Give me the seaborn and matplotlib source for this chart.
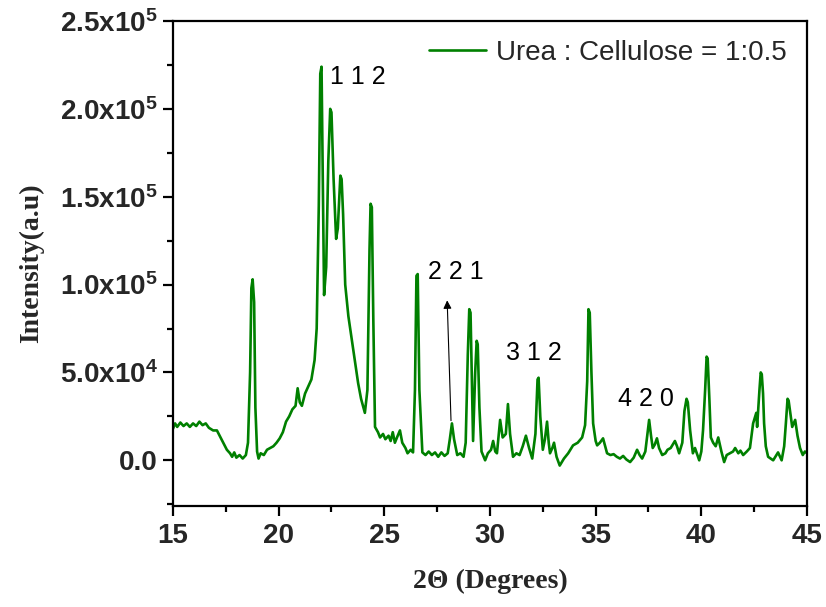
import numpy as np
import pandas as pd
import matplotlib
matplotlib.use("Agg")
import matplotlib.pyplot as plt
import seaborn as sns
from matplotlib.ticker import MultipleLocator, FixedLocator

two_theta = [
    15.0, 15.1, 15.2, 15.35, 15.5, 15.65, 15.8, 15.95, 16.1, 16.25, 16.4, 16.55, 16.7, 16.9,
    17.08, 17.25, 17.4, 17.55, 17.7, 17.8, 17.9, 18.0, 18.15, 18.3, 18.45, 18.55, 18.65, 18.71, 18.77,
    18.84, 18.9, 18.98, 19.05, 19.15, 19.3, 19.45, 19.6, 19.75, 19.9, 20.05, 20.2, 20.35, 20.5,
    20.65, 20.8, 20.9, 21.0, 21.1, 21.25, 21.4, 21.55, 21.7, 21.8, 21.9, 21.97, 22.03, 22.15,
    22.25, 22.35, 22.44, 22.5, 22.6, 22.72, 22.8, 22.92, 22.98, 23.05, 23.15, 23.3, 23.47, 23.6, 23.76, 23.9,
    24.08, 24.2, 24.3, 24.35, 24.41, 24.48, 24.56, 24.7, 24.8, 24.94, 25.05, 25.2, 25.3, 25.4, 25.5,
    25.6, 25.74, 25.85, 26.0, 26.1, 26.25, 26.36, 26.45, 26.52, 26.58, 26.66, 26.8, 26.95, 27.1,
    27.25, 27.4, 27.55, 27.7, 27.85, 28.0, 28.1, 28.2, 28.3, 28.45, 28.6, 28.75, 28.85, 28.95,
    29.02, 29.08, 29.2, 29.3, 29.37, 29.42, 29.5, 29.6, 29.77, 29.9, 30.05, 30.15, 30.25, 30.33, 30.48,
    30.6, 30.75, 30.85, 30.95, 31.09, 31.25, 31.4, 31.55, 31.7, 31.85, 32.0, 32.15, 32.25, 32.3, 32.38,
    32.5, 32.6, 32.7, 32.78, 32.84, 32.95, 33.03, 33.15, 33.3, 33.5, 33.7, 33.93, 34.15, 34.36,
    34.5, 34.6, 34.66, 34.72, 34.8, 34.88, 35.0, 35.07, 35.2, 35.35, 35.45, 35.54, 35.7, 35.85, 36.0,
    36.15, 36.3, 36.45, 36.63, 36.8, 36.96, 37.08, 37.2, 37.35, 37.45, 37.53, 37.62, 37.7, 37.8,
    37.9, 38.0, 38.15, 38.3, 38.4, 38.55, 38.75, 38.85, 38.95, 39.1, 39.2, 39.3, 39.36, 39.47, 39.6,
    39.7, 39.9, 40.0, 40.08, 40.18, 40.25, 40.3, 40.38, 40.45, 40.56, 40.68, 40.8, 40.95, 41.08, 41.2,
    41.35, 41.5, 41.6, 41.75, 41.85, 41.98, 42.15, 42.3, 42.45, 42.6, 42.64, 42.75, 42.81, 42.86, 42.92,
    42.97, 43.05, 43.16, 43.4, 43.55, 43.63, 43.8, 43.92, 44.0, 44.08, 44.13, 44.2, 44.3, 44.44, 44.55,
    44.67, 44.8, 44.9, 45.0,
]
intensity = [
    18000, 21000, 19000, 21500, 19500, 21000, 19000, 21000, 19500, 22000, 20000, 21000, 18500, 17000,
    17000, 13000, 9500, 6000, 4000, 2000, 4500, 1500, 3000, 1000, 3000, 10000, 50000, 98000, 103000,
    90000, 30000, 5000, 1000, 4000, 3000, 6000, 7000, 8000, 10000, 12500, 16000, 22000, 25000,
    29000, 31000, 41000, 33000, 31000, 38000, 42000, 46000, 57000, 75000, 145000, 220000, 224000, 94000,
    110000, 170000, 200000, 198000, 160000, 126000, 132000, 162000, 160000, 140000, 100000, 82000, 68000, 57000, 44000, 35000,
    27000, 40000, 120000, 146000, 144000, 80000, 19000, 16000, 13000, 15000, 12000, 14000, 11000, 16000, 10000,
    13000, 17000, 10000, 7000, 4000, 6000, 4500, 40000, 105000, 106000, 40000, 4500, 3000, 5000,
    3000, 4500, 2000, 4500, 2500, 4000, 12000, 21000, 12000, 3000, 4000, 2000, 10000, 60000,
    86000, 84000, 11000, 50000, 68000, 66000, 30000, 5000, 0, 4000, 6000, 11000, 5000, 4000, 23000,
    13000, 15000, 32000, 15000, 2000, 4000, 3000, 8000, 14000, 7000, 1000, 15000, 46000, 47000, 25000,
    6000, 12000, 22000, 10000, 4000, 7000, 10000, 2000, -3000, 1000, 4000, 8500, 10000, 13000,
    20000, 45000, 86000, 84000, 50000, 21000, 11000, 8500, 10000, 12500, 8000, 4000, 3000, 3500, 2000,
    1000, 2500, 500, -1000, 1500, 6000, 3000, 1000, 5000, 15000, 23000, 14000, 7000, 9000,
    12500, 7000, 3000, 4000, 6000, 7000, 11000, 8000, 4000, 10000, 28000, 35000, 33000, 17000, 4000,
    7000, 0, 5000, 17000, 40000, 59000, 58000, 35000, 13000, 10000, 8000, 13000, 5000, -1000, 3000,
    4000, 5000, 7000, 4000, 5500, 3000, 5000, 7000, 21000, 27000, 19000, 40000, 50000, 49000, 38000,
    21000, 8000, 2000, 0, 3000, 4500, 0, 8000, 21000, 35000, 34000, 28000, 19000, 23000, 14000,
    7000, 3000, 5000, 4000,
]

series_label = "Urea : Cellulose = 1:0.5"
peak_labels = ["1 1 2", "2 2 1", "3 1 2", "4 2 0"]
peak_label_x = [23.75, 28.4, 32.1, 37.4]
peak_label_y = [218000, 107000, 61000, 35000]
y_ticks = [0, 50000, 100000, 150000, 200000, 250000]
y_tick_labels = ["0.0", "5.0x10$^{4}$", "1.0x10$^{5}$", "1.5x10$^{5}$", "2.0x10$^{5}$", "2.5x10$^{5}$"]
x_ticks = [15, 20, 25, 30, 35, 40, 45]

df = pd.DataFrame({"two_theta": two_theta, "intensity": intensity})

sns.set_style("ticks")
plt.rcParams["font.family"] = ["Liberation Sans", "DejaVu Sans"]
plt.rcParams["mathtext.default"] = "regular"

fig = plt.figure(figsize=(8.26, 6.07), dpi=100)
ax = fig.add_axes([0.2094, 0.1664, 0.7676, 0.799])

sns.lineplot(data=df, x="two_theta", y="intensity", ax=ax, color="#008000",
             linewidth=1.9, label=series_label, sort=False, estimator=None)

ax.set_xlim(15, 45)
ax.set_ylim(-26000, 250000)
ax.xaxis.set_major_locator(FixedLocator(x_ticks))
ax.xaxis.set_minor_locator(MultipleLocator(2.5))
ax.yaxis.set_major_locator(FixedLocator(y_ticks))
ax.yaxis.set_minor_locator(MultipleLocator(25000))
ax.set_xticklabels([str(t) for t in x_ticks], fontsize=20, fontweight="bold")
ax.set_yticklabels(y_tick_labels, fontsize=20, fontweight="bold")

ax.tick_params(which="major", direction="out", length=7.2, width=1.6, color="black")
ax.tick_params(axis="x", which="major", pad=5)
ax.tick_params(axis="y", which="major", pad=4)
ax.tick_params(which="minor", direction="out", length=4.3, width=1.6, color="black")
ax.tick_params(top=False, right=False, which="both")
for sp in ax.spines.values():
    sp.set_linewidth(1.6)
    sp.set_color("black")
    sp.set_visible(True)

ax.set_xlabel("2\u0398 (Degrees)", fontsize=20, fontweight="bold",
              family=["Liberation Serif", "DejaVu Serif"], labelpad=14)
ax.set_ylabel("Intensity(a.u)", fontsize=20, fontweight="bold",
              family=["Liberation Serif", "DejaVu Serif"], labelpad=11)

for txt, lx, ly in zip(peak_labels, peak_label_x, peak_label_y):
    ax.text(lx, ly, txt, fontsize=18, ha="center", va="center", color="black")

ax.annotate("", xy=(27.97, 92600), xytext=(28.16, 21000),
            arrowprops=dict(arrowstyle="-|>", color="black", lw=0.8, mutation_scale=12))

leg = ax.legend(loc="center right", frameon=False, fontsize=20, handlelength=2.05,
                handletextpad=0.36, bbox_to_anchor=(0.9685, 0.934),
                borderaxespad=0, borderpad=0)

fig.savefig("out.png", dpi=100, facecolor="white")
